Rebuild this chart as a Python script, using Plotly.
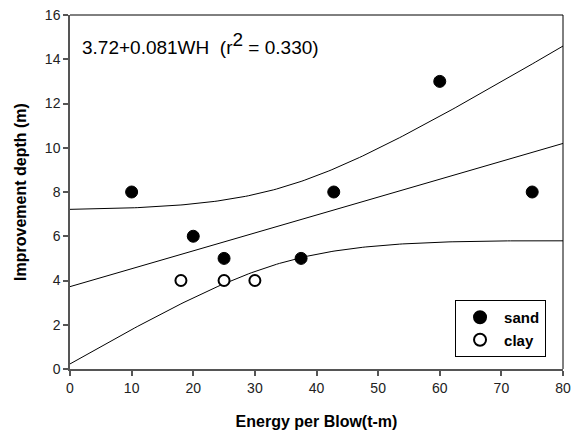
import numpy as np
import plotly.graph_objects as go

# Data
sand_x = [10, 20, 25, 37.5, 42.8, 60, 75]
sand_y = [8, 6, 5, 5, 8, 13, 8]
clay_x = [18, 25, 30]
clay_y = [4, 4, 4]
x_ticks = [0, 10, 20, 30, 40, 50, 60, 70, 80]
y_ticks = [0, 2, 4, 6, 8, 10, 12, 14, 16]
band_mult = 2.18  # confidence band multiplier matching the figure

# Linear regression on all points with confidence band for the mean
xa = np.array(sand_x + clay_x, dtype=float)
ya = np.array(sand_y + clay_y, dtype=float)
n = len(xa)
b, a = np.polyfit(xa, ya, 1)
res = ya - (a + b * xa)
r2 = 1 - np.sum(res ** 2) / np.sum((ya - ya.mean()) ** 2)
s = np.sqrt(np.sum(res ** 2) / (n - 2))
sxx = np.sum((xa - xa.mean()) ** 2)
xf = np.linspace(0, 80, 161)
yf = a + b * xf
half = band_mult * s * np.sqrt(1.0 / n + (xf - xa.mean()) ** 2 / sxx)

fig = go.Figure()
line_style = dict(color="black", width=1)
fig.add_trace(go.Scatter(x=xf, y=yf, mode="lines", line=line_style, showlegend=False, hoverinfo="skip"))
fig.add_trace(go.Scatter(x=xf, y=yf + half, mode="lines", line=line_style, showlegend=False, hoverinfo="skip"))
fig.add_trace(go.Scatter(x=xf, y=yf - half, mode="lines", line=line_style, showlegend=False, hoverinfo="skip"))
fig.add_trace(go.Scatter(x=sand_x, y=sand_y, mode="markers", name="<b>sand</b>",
                         marker=dict(size=12, color="black", line=dict(color="black", width=1))))
fig.add_trace(go.Scatter(x=clay_x, y=clay_y, mode="markers", name="<b>clay</b>",
                         marker=dict(size=11, color="white", line=dict(color="black", width=2))))

font = "Liberation Sans, Arial, sans-serif"
axis_common = dict(showgrid=False, zeroline=False, showline=True, linecolor="#555", linewidth=1.5,
                   ticks="outside", ticklen=5, tickcolor="#555", tickwidth=1.5, automargin=False,
                   tickfont=dict(family=font, size=14, color="#222"))
fig.update_layout(
    width=579, height=430,
    margin=dict(l=70, r=16, t=15, b=61),
    paper_bgcolor="white", plot_bgcolor="white",
    font=dict(family=font, color="black"),
    xaxis=dict(range=[0, 80], tickvals=x_ticks, **axis_common,
               title=dict(text="<b>Energy per Blow(t-m)</b>", font=dict(size=16, family=font), standoff=21)),
    yaxis=dict(range=[0, 16], tickvals=y_ticks, **axis_common,
               title=dict(text="<b>Improvement depth (m)</b>", font=dict(size=16, family=font), standoff=14)),
    legend=dict(x=0.781, y=0.195, xanchor="left", yanchor="top", bgcolor="white",
                bordercolor="black", borderwidth=1, font=dict(size=15, family=font),
                itemsizing="constant", tracegroupgap=0, itemwidth=38),
    showlegend=True,
)
fig.add_shape(type="line", xref="paper", yref="paper", x0=0, x1=1, y0=1, y1=1, line=dict(color="black", width=1))
fig.add_shape(type="line", xref="paper", yref="paper", x0=1, x1=1, y0=0, y1=1, line=dict(color="black", width=1))
fig.add_annotation(xref="paper", yref="paper", x=0.02, y=0.92, xanchor="left", yanchor="middle",
                   text="%.2f+%.3fWH  (r<sup><span style='font-size:19px'>2</span></sup> = %.3f)" % (a, b, r2),
                   showarrow=False, font=dict(size=19, family=font, color="black"))
fig.write_html("out.html")
